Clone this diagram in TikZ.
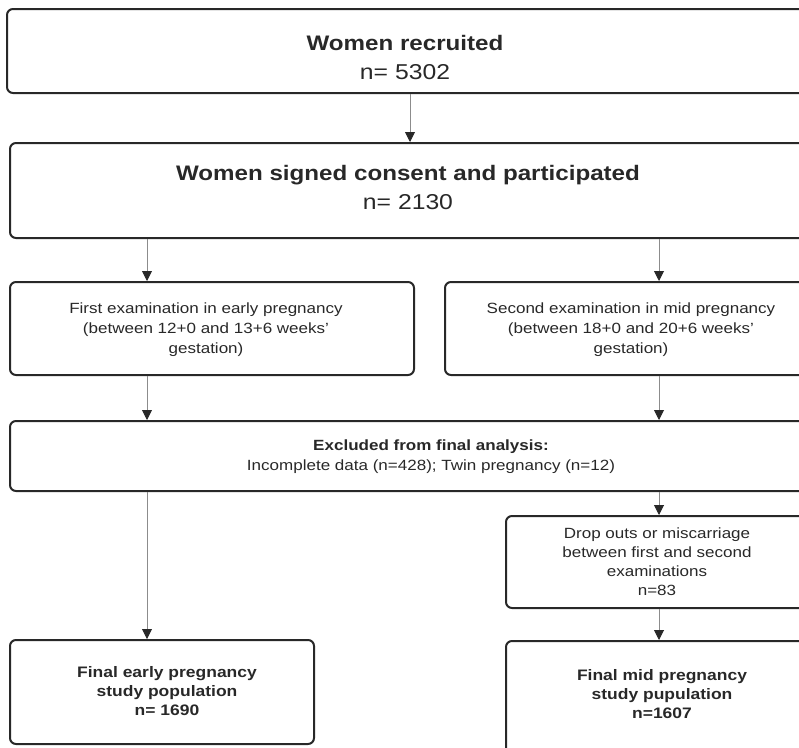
\documentclass[tikz,border=0pt]{standalone}
\usepackage{fontspec}
\setmainfont{Liberation Sans}[FakeStretch=1.15]
\usetikzlibrary{arrows.meta}
\definecolor{figTrait}{RGB}{40,40,40}
\definecolor{figFleche}{RGB}{140,140,140}

\begin{document}
\begin{tikzpicture}[
  x=1pt, y=-1pt,
  every node/.style={font=\fontsize{14.8}{20}\selectfont, text=figTrait},
  box/.style={draw=figTrait, line width=2pt, rounded corners=6pt, anchor=north west,
              inner sep=0pt},
  txt/.style={align=center, anchor=base, inner sep=0pt},
  big/.style={font=\fontsize{21}{29}\selectfont},
  sbold/.style={font=\fontsize{15.2}{19}\selectfont\bfseries},
  arr/.style={-{Triangle[length=10pt,width=10pt,fill=figTrait,color=figTrait]},
              line width=0.9pt, figFleche}
]
\useasboundingbox (0,0) rectangle (799,747);

% cadres
\node[box, minimum width=830pt, minimum height=84pt]  (rec)    at (6,8)     {};
\node[box, minimum width=830pt, minimum height=95pt]  (part)   at (9,142)   {};
\node[box, minimum width=404pt, minimum height=93pt]  (first)  at (9,281)   {};
\node[box, minimum width=400pt, minimum height=93pt]  (second) at (444,281) {};
\node[box, minimum width=830pt, minimum height=70pt]  (excl)   at (9,420)   {};
\node[box, minimum width=330pt, minimum height=92pt]  (drop)   at (505,515) {};
\node[box, minimum width=304pt, minimum height=104pt] (finE)   at (9,639)   {};
\node[box, minimum width=330pt, minimum height=130pt] (finM)   at (505,640) {};

% textes (base = ligne du bas)
\node[txt, big] (recT) at (405,79)
  {\bfseries Women recruited\\{\fontsize{21.5}{29}\selectfont n= 5302}};
\node[txt, big] (partT) at (408,209)
  {\bfseries Women signed consent and participated\\{\fontsize{21.5}{28}\selectfont n= 2130}};
\node[txt] (firstT) at (206,353)
  {First examination in early pregnancy\\(between 12+0 and 13+6 weeks'\\gestation)};
\node[txt] (secondT) at (631,353)
  {Second examination in mid pregnancy\\(between 18+0 and 20+6 weeks'\\gestation)};
\node[txt] (exclT) at (431,470)
  {\textbf{Excluded from final analysis:}\\Incomplete data (n=428); Twin pregnancy (n=12)};
\node[txt, font=\fontsize{14.8}{19}\selectfont] (dropT) at (657,595)
  {Drop outs or miscarriage\\between first and second\\examinations\\n=83};
\node[txt, sbold] (finET) at (167,715)
  {Final early pregnancy\\study population\\n= 1690};
\node[txt, sbold] (finMT) at (662,718)
  {Final mid pregnancy\\study pupulation\\n=1607};

% colonnes des fleches
\coordinate (colM) at (410,0);
\coordinate (colL) at (147,0);
\coordinate (colR) at (659,0);

\draw[arr] (rec.south -| colM)    -- (part.north -| colM);
\draw[arr] (part.south -| colL)   -- (first.north -| colL);
\draw[arr] (part.south -| colR)   -- (second.north -| colR);
\draw[arr] (first.south -| colL)  -- (excl.north -| colL);
\draw[arr] (second.south -| colR) -- (excl.north -| colR);
\draw[arr] (excl.south -| colL)   -- (finE.north -| colL);
\draw[arr] (excl.south -| colR)   -- (drop.north -| colR);
\draw[arr] (drop.south -| colR)   -- (finM.north -| colR);

\end{tikzpicture}
\end{document}
